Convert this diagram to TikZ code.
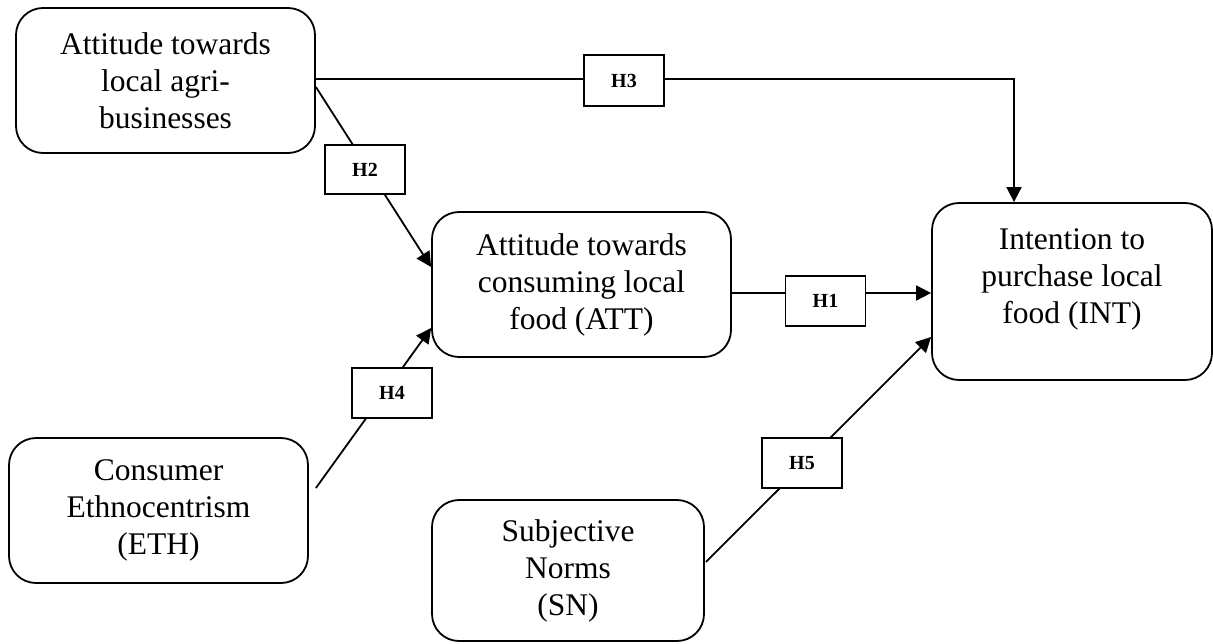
\documentclass[tikz,border=0pt]{standalone}
\usepackage{fontspec}
\setmainfont{Liberation Serif}
\usetikzlibrary{arrows.meta,calc}
\begin{document}
\begin{tikzpicture}[x=1pt,y=-1pt,
  box/.style={draw, line width=1.8pt, rounded corners=27pt, inner sep=0pt, align=center,
    font=\fontsize{31.5}{37}\selectfont},
  boxtext/.style={align=center, inner sep=0pt, font=\fontsize{31.5}{37}\selectfont},
  hbox/.style={draw, fill=white, line width=1.8pt, minimum width=80pt, minimum height=50pt,
    inner sep=0pt, font=\fontsize{20}{24}\selectfont\bfseries},
  arr/.style={line width=1.8pt, -{Triangle[length=15pt,width=15pt]}}]
\useasboundingbox (0,0) rectangle (1213,643);

% main boxes
\node[box, minimum width=299pt, minimum height=145pt] (b1) at (165.5,80.5)
  {Attitude towards\\local agri-\\businesses};
\node[box, minimum width=299pt, minimum height=145pt] (b2) at (581.5,284.5)
  {Attitude towards\\consuming local\\food (ATT)};
\node[box, minimum width=280pt, minimum height=177pt] (b3) at (1072,291.5) {};
\node[boxtext] (t3) at ($(b3.center)+(0,-12)$) {Intention to\\purchase local\\food (INT)};
\node[box, minimum width=299pt, minimum height=145pt] (b4) at (158.5,510.5)
  {Consumer\\Ethnocentrism\\(ETH)};
\node[box, minimum width=272pt, minimum height=141pt] (b5) at (568,570.5)
  {Subjective\\Norms\\(SN)};

% connectors
\draw[arr] ($(b1.east)+(0,-1.5)$) -| ($(b3.north)+(-58,0)$);
\draw[arr] ($(b1.east)+(0,6.5)$) -- ($(b2.west)+(0,-17.5)$);
\draw[arr] ($(b2.east)+(0,8.5)$) -- ($(b3.west)+(0,1.5)$);
\draw[arr] ($(b4.east)+(7,-22.5)$) -- ($(b2.west)+(0,43.5)$);
\draw[arr] ($(b5.east)+(1,-8.5)$) -- ($(b3.west)+(0,45.5)$);

% hypothesis labels
\node[hbox, minimum height=51pt] (h3) at (624,80.5) {H3};
\node[hbox, minimum height=49pt] (h2) at (365,169.5) {H2};
\node[hbox] (h1) at (825.5,301) {H1};
\node[hbox] (h4) at (392,393) {H4};
\node[hbox] (h5) at (802,463) {H5};
\end{tikzpicture}
\end{document}
